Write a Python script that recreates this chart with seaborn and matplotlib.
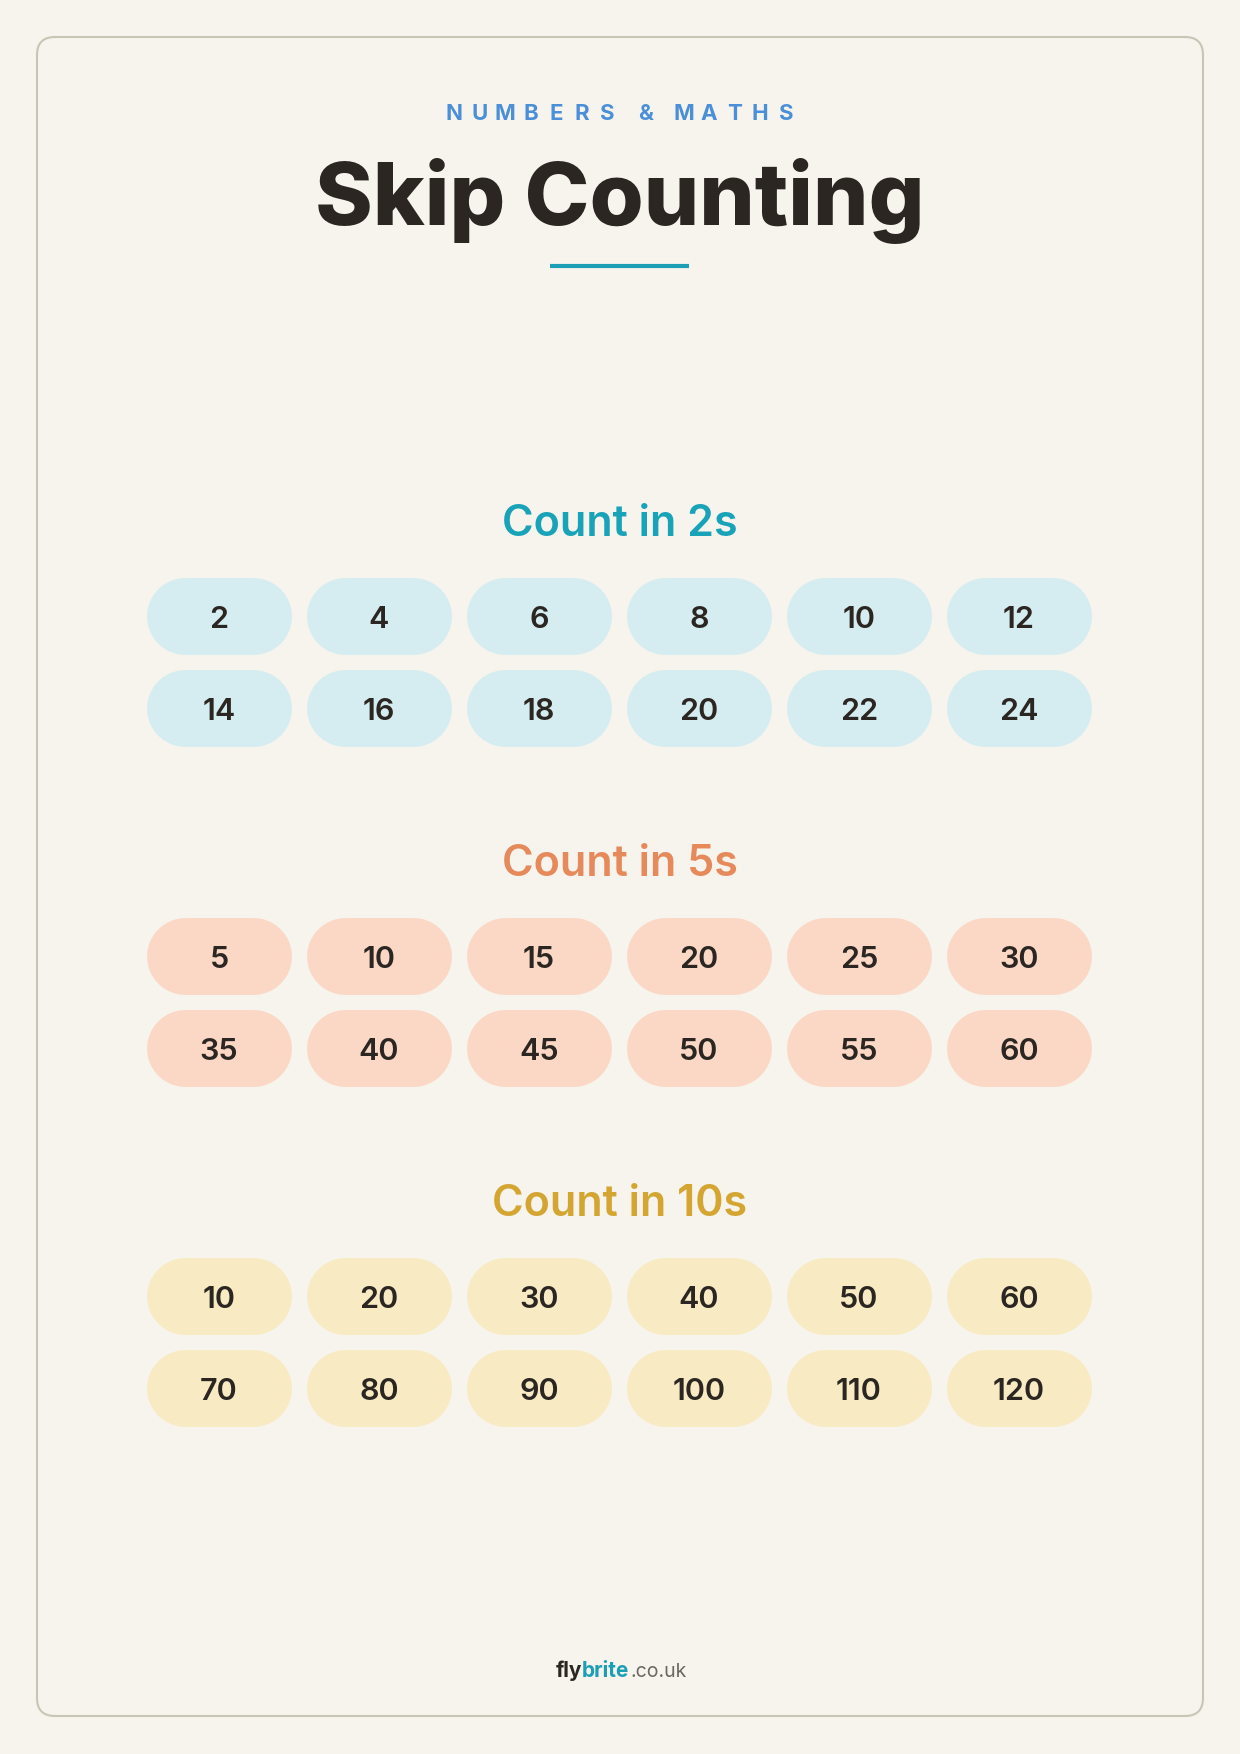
import matplotlib
matplotlib.use("Agg")
import matplotlib.pyplot as plt
from matplotlib.patches import FancyBboxPatch
import seaborn as sns

# data
headings = ["Count in 2s", "Count in 5s", "Count in 10s"]
steps = [2, 5, 10]
counts_2s = [2, 4, 6, 8, 10, 12, 14, 16, 18, 20, 22, 24]
counts_5s = [5, 10, 15, 20, 25, 30, 35, 40, 45, 50, 55, 60]
counts_10s = [10, 20, 30, 40, 50, 60, 70, 80, 90, 100, 110, 120]
sections = [counts_2s, counts_5s, counts_10s]

head_colors = ["#18a3b8", "#e68a5c", "#d4a530"]
pill_colors = ["#d5edf0", "#fbd8c6", "#f8ebc3"]
bg = "#f7f4ee"
ink = "#2b2622"

sns.set_theme(style="white")
plt.rcParams["font.family"] = ["Inter", "DejaVu Sans"]

fig = plt.figure(figsize=(12.4, 17.54), dpi=100, facecolor=bg)
ax = fig.add_axes([0, 0, 1, 1])
ax.set_xlim(0, 1240)
ax.set_ylim(1754, 0)
ax.axis("off")
ax.set_facecolor(bg)

# frame
ax.add_patch(FancyBboxPatch((37, 37), 1166, 1679, boxstyle="round,pad=0,rounding_size=18",
                            fc=bg, ec="#c9c5b6", lw=1.5))

# letter-spaced kicker, placed letter by letter (spaces get half a step)
sub = "NUMBERS & MATHS"
pitch = 25.5
steps_x = [pitch * (0.5 if ch == " " else 1) for ch in sub]
pos, cur = [], 0
for k, ch in enumerate(sub):
    pos.append(cur)
    cur += (steps_x[k] + steps_x[k + 1]) / 2 if k + 1 < len(sub) else 0
off = 620 - pos[-1] / 2
for ch, p in zip(sub, pos):
    if ch != " ":
        ax.text(off + p, 114, ch, ha="center", va="center",
                fontsize=16, fontweight="bold", color="#4a8fd8")
ax.text(620, 201, "Skip Counting", ha="center", va="center",
        fontsize=63, fontweight="heavy", color=ink)
ax.plot([550, 689], [266, 266], color="#1a9fb5", lw=3, solid_capstyle="butt")

col_x = [219, 379, 539, 699, 859, 1019]
head_y = [522, 862, 1202]
pw, ph = 145, 77
for s, vals in enumerate(sections):
    ax.text(620, head_y[s] + 3, headings[s], ha="center", va="center",
            fontsize=31, fontweight="semibold", color=head_colors[s])
    for i, v in enumerate(vals):
        cx = col_x[i % 6]
        cy = head_y[s] + 94 + (i // 6) * 92
        # stadium-shaped pill: a thick line with round caps (77px tall)
        ax.plot([cx - pw / 2 + ph / 2, cx + pw / 2 - ph / 2], [cy, cy],
                color=pill_colors[s], lw=ph * 0.72, solid_capstyle="round", zorder=2)
        ax.text(cx, cy + 4, str(v), ha="center", va="center",
                fontsize=22, fontweight="semibold", color=ink, zorder=3)

# footer
ax.text(582, 1671, "fly", ha="right", va="center", fontsize=15, fontweight="bold", color=ink)
ax.text(582, 1671, "brite", ha="left", va="center", fontsize=15, fontweight="bold", color="#1a9fb5")
ax.text(631, 1672, ".co.uk", ha="left", va="center", fontsize=14, color="#6b6660")

fig.savefig("out.png", dpi=100, facecolor=bg)
